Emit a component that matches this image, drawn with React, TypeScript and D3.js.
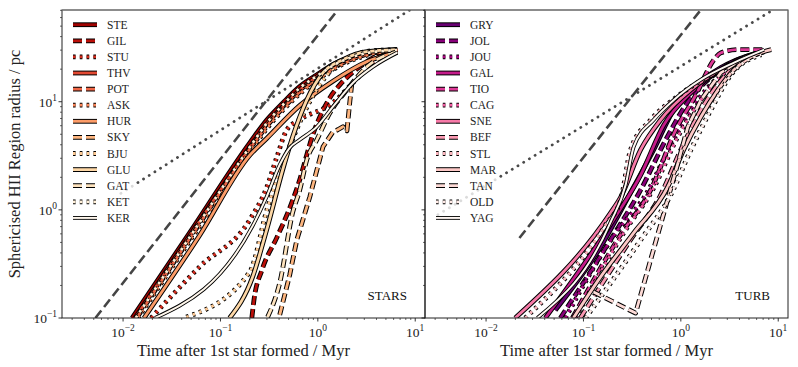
import { useEffect, useRef } from "react";
import * as d3 from "d3";

const W = 798;
const H = 367;

const starsNames = ["STE", "GIL", "STU", "THV", "POT", "ASK", "HUR", "SKY", "BJU", "GLU", "GAT", "KET", "KER"];
const turbNames = ["GRY", "JOL", "JOU", "GAL", "TIO", "CAG", "SNE", "BEF", "STL", "MAR", "TAN", "OLD", "YAG"];

// [time after 1st star / Myr, radius / pc]
const STE = [[0.0124, 0.1], [0.048, 0.61], [0.2, 4.17], [0.3, 6.8], [0.44, 9.8], [0.65, 13.8], [0.98, 17.8], [1.43, 22], [3.2, 28.4], [6.5, 30.3]];
const GIL = [[0.21, 0.1], [0.221, 0.147], [0.267, 0.278], [0.378, 0.551], [0.514, 1.04], [0.652, 1.9], [0.77, 3.23], [0.888, 4.95], [1.05, 7.26], [1.33, 10.9], [1.69, 14.4], [2.71, 21.1], [4.68, 28.4], [6.52, 30.3]];
const STU = [[0.0194, 0.1], [0.061, 0.297], [0.2, 0.81], [0.3, 1.63], [0.38, 3.1], [0.48, 5.5], [0.65, 6.8], [1.43, 9.8], [2.3, 15], [3.7, 23], [6.5, 28.4]];
const THV = [[0.0133, 0.1], [0.05, 0.6], [0.21, 4.0], [0.31, 6.5], [0.46, 9.4], [0.68, 13.2], [1.0, 17.2], [1.5, 21.5], [3.3, 28], [6.6, 30]];
const POT = [[0.0138, 0.1], [0.052, 0.6], [0.215, 4.0], [0.32, 6.4], [0.47, 9.3], [0.7, 13], [1.05, 17], [1.55, 21.3], [3.4, 27.8], [6.6, 29.8]];
const ASK = [[0.0142, 0.1], [0.054, 0.6], [0.22, 3.9], [0.33, 6.3], [0.48, 9.1], [0.72, 12.8], [1.07, 16.8], [1.6, 21], [3.5, 27.5], [6.6, 29.6]];
const HUR = [[0.0164, 0.1], [0.061, 0.58], [0.2, 3.2], [0.3, 4.6], [0.65, 9.2], [1.43, 15.5], [3.2, 23.5], [6.5, 28.6]];
const SKY = [[0.406, 0.107], [0.514, 0.25], [0.608, 0.527], [0.827, 1.32], [1.13, 3.83], [1.43, 5.27], [1.6, 5.5], [1.81, 5.87], [1.99, 5.39], [2.14, 10.4], [2.24, 15]];
const BJU = [[0.0446, 0.102], [0.2, 0.267], [0.3, 1.0], [0.55, 4.5], [0.8, 9.5], [1.2, 17], [2.0, 25], [3.5, 29.5], [6.6, 30.3]];
const GLU = [[0.124, 0.1], [0.214, 0.24], [0.298, 0.653], [0.436, 2.35], [0.552, 4.74], [0.77, 10.4], [1.13, 18.6], [1.81, 24.5], [3.2, 29], [6.5, 30.3]];
const GAT = [[0.305, 0.102], [0.406, 0.211], [0.552, 0.95], [0.652, 1.53], [0.77, 2.9], [0.977, 4.45], [1.33, 7.89], [1.99, 12.9], [3.2, 21.1], [6.52, 29]];
const KET = [[0.0135, 0.1], [0.051, 0.6], [0.21, 4.05], [0.31, 6.6], [0.45, 9.6], [0.66, 13.5], [1.0, 17.5], [1.45, 21.7], [3.2, 28.2], [6.5, 30]];
const KER = [[0.0213, 0.1], [0.214, 0.711], [0.298, 1.32], [0.406, 2.61], [0.514, 3.75], [0.652, 4.45], [0.977, 5.87], [1.43, 8.99], [2.3, 15], [3.69, 21.1], [6.52, 28.4]];

const GRY = [[0.0514, 0.118], [0.15, 0.454], [0.328, 1.63], [0.527, 3.6], [0.847, 8.43], [1.27, 12.9], [2.58, 20.7], [5.27, 27.2], [7.18, 29]];
const JOL = [[0.0579, 0.1], [0.19, 0.53], [0.387, 1.53], [0.7, 4.45], [1.13, 9.4], [2.58, 19.8], [6.7, 29]];
const JOU = [[0.0652, 0.1], [0.214, 0.612], [0.436, 1.38], [0.789, 4.0], [1.27, 8.43], [2.58, 17.8], [5.93, 27.2]];
const GAL = [[0.0406, 0.1], [0.204, 0.81], [0.387, 2.1], [0.668, 6.1], [1.27, 12.1], [2.58, 19.8], [6.7, 29]];
const TIO = [[0.077, 0.1], [0.241, 0.59], [0.491, 1.53], [0.888, 5.5], [1.43, 11.6], [2.19, 24.5], [2.58, 28.4], [3.87, 30.3], [7.18, 30.3]];
const CAG = [[0.0827, 0.1], [0.271, 0.653], [0.514, 1.53], [0.954, 4.95], [1.61, 10.4], [2.91, 19], [5.93, 27.2]];
const SNE = [[0.0199, 0.1], [0.19, 0.94], [0.24, 1.3], [0.387, 3.6], [0.62, 6.8], [1.27, 12.9], [2.58, 19.8], [5.27, 26.1], [7.18, 29]];
const BEF = [[0.093, 0.1], [0.305, 0.53], [0.622, 1.38], [1.0, 3.6], [1.61, 8.43], [2.91, 17.8], [6.37, 28.4]];
const STL = [[0.0252, 0.1], [0.169, 0.726], [0.241, 1.24], [0.305, 3.6], [0.491, 6.8], [0.888, 10.9], [1.81, 16.7], [4.15, 24.5]];
const MAR = [[0.0788, 0.1], [0.15, 0.24], [0.328, 0.612], [0.734, 1.63], [1.07, 3.6], [1.61, 7.26], [2.41, 12.9], [3.52, 19.8], [5.27, 26.1], [8.47, 30.3]];
const TAN = [[0.127, 0.174], [0.343, 0.111], [0.954, 2.9], [1.18, 5.87], [1.61, 10.4], [2.58, 18.6], [4.68, 26.1]];
const OLD = [[0.105, 0.1], [0.387, 0.527], [0.789, 1.38], [1.27, 3.6], [2.04, 8.43], [3.28, 17.8], [6.7, 27.2]];
const YAG = [[0.0336, 0.1], [0.19, 0.77], [0.271, 1.7], [0.328, 3.83], [0.527, 6.81], [0.847, 10.4], [1.61, 16], [3.52, 23], [7.18, 30.3]];

const starsSeries = [STE, GIL, STU, THV, POT, ASK, HUR, SKY, BJU, GLU, GAT, KET, KER];
const turbSeries = [GRY, JOL, JOU, GAL, TIO, CAG, SNE, BEF, STL, MAR, TAN, OLD, YAG];

// tracks with sharp kinks, drawn with straight segments
const kinked = ["SKY", "TAN"];

// reference power laws (straight in log-log)
const refDashedStars = [[0.0052, 0.1], [1.6, 70.5]];
const refDottedStars = [[0.0095, 1.42], [8.8, 70.5]];
const refDashedTurb = [[0.022, 0.55], [1.6, 70.5]];
const refDottedTurb = [[0.0032, 0.9], [8.8, 70.5]];

const xTicks = [0.01, 0.1, 1, 10];
const xTickExp = ["−2", "−1", "0", "1"];
const yTicks = [0.1, 1, 10];
const yTickExp = ["−1", "0", "1"];

const xDomain = [0.00236, 12.6];
const yDomain = [0.1, 70.5];

const App = () => {
	const svgRef = useRef(null);

	useEffect(() => {
		const svg = d3.select(svgRef.current);
		svg.selectAll("*").remove();

		const top = 10;
		const bottom = 318;

		const panels = [
			{id: "stars", x0: 62, x1: 425, label: "STARS", names: starsNames, series: starsSeries, dashed: refDashedStars, dotted: refDottedStars, cmap: d3.interpolateOrRd},
			{id: "turb", x0: 425, x1: 788, label: "TURB", names: turbNames, series: turbSeries, dashed: refDashedTurb, dotted: refDottedTurb, cmap: d3.interpolateRdPu},
		];

		const dashFor = (k) => (k === 0 ? null : k === 1 ? "9,4" : "2.6,4.2");

		panels.forEach((p, pi) => {
			const x = d3.scaleLog().domain(xDomain).range([p.x0, p.x1]);
			const y = d3.scaleLog().domain(yDomain).range([bottom, top]);
			const color = (i) => p.cmap(0.92 - (i * 0.92) / 12);

			svg.append("clipPath")
				.attr("id", `clip-${p.id}`)
				.append("rect")
				.attr("x", p.x0)
				.attr("y", top)
				.attr("width", p.x1 - p.x0)
				.attr("height", bottom - top);

			const g = svg.append("g").attr("clip-path", `url(#clip-${p.id})`);
			const smooth = d3.line()
				.x((d) => x(d[0]))
				.y((d) => y(d[1]))
				.curve(d3.curveMonotoneX);
			const straight = d3.line().x((d) => x(d[0])).y((d) => y(d[1]));

			p.series.forEach((s, i) => {
				const dash = dashFor(i % 3);
				const gen = kinked.includes(p.names[i]) ? straight : smooth;
				const thin = i === 12;
				g.append("path")
					.attr("d", gen(s))
					.attr("fill", "none")
					.attr("stroke", "#000")
					.attr("stroke-width", thin ? 3.8 : 4.8)
					.attr("stroke-linejoin", "round")
					.attr("stroke-dasharray", dash);
				g.append("path")
					.attr("d", gen(s))
					.attr("fill", "none")
					.attr("stroke", color(i))
					.attr("stroke-width", thin ? 2 : 2.8)
					.attr("stroke-linejoin", "round")
					.attr("stroke-dasharray", dash);
			});

			g.append("path")
				.attr("d", straight(p.dashed))
				.attr("fill", "none")
				.attr("stroke", "#454545")
				.attr("stroke-width", 2.6)
				.attr("stroke-dasharray", "9.5,4.5");
			g.append("path")
				.attr("d", straight(p.dotted))
				.attr("fill", "none")
				.attr("stroke", "#4a4a4a")
				.attr("stroke-width", 2.8)
				.attr("stroke-linecap", "round")
				.attr("stroke-dasharray", "0.1,6.6");

			// legend
			const lx = p.x0 + 4;
			const leg = svg.append("g");
			leg.append("rect")
				.attr("x", lx)
				.attr("y", 14)
				.attr("width", 70)
				.attr("height", 214)
				.attr("rx", 3)
				.attr("fill", "#fff")
				.attr("opacity", 0.8);
			p.names.forEach((name, i) => {
				const ry = 24.7 + i * 16.1;
				const dash = dashFor(i % 3);
				const thin = i === 12;
				leg.append("line")
					.attr("x1", lx + 7).attr("x2", lx + 31)
					.attr("y1", ry).attr("y2", ry)
					.attr("stroke", "#000").attr("stroke-width", thin ? 3.8 : 4.8)
					.attr("stroke-dasharray", dash);
				leg.append("line")
					.attr("x1", lx + 7).attr("x2", lx + 31)
					.attr("y1", ry).attr("y2", ry)
					.attr("stroke", color(i)).attr("stroke-width", thin ? 2 : 2.8)
					.attr("stroke-dasharray", dash);
				leg.append("text")
					.attr("x", lx + 41)
					.attr("y", ry + 4)
					.attr("font-size", 11.5)
					.attr("fill", "#222")
					.text(name);
			});

			svg.append("text")
				.attr("x", p.x1 - 18)
				.attr("y", 299.5)
				.attr("text-anchor", "end")
				.attr("font-size", 13)
				.attr("fill", "#111")
				.text(p.label);

			// x ticks
			const axis = svg.append("g").attr("stroke", "#000");
			const minors = [];
			for (let e = -3; e <= 1; e++) {
				for (let m = 2; m <= 9; m++) minors.push(m * Math.pow(10, e));
			}
			minors.filter((v) => v > xDomain[0] && v < xDomain[1]).forEach((v) => {
				axis.append("line").attr("x1", x(v)).attr("x2", x(v)).attr("y1", bottom).attr("y2", bottom + 2).attr("stroke-width", 0.6);
			});
			xTicks.forEach((v, i) => {
				axis.append("line").attr("x1", x(v)).attr("x2", x(v)).attr("y1", bottom).attr("y2", bottom + 3.5).attr("stroke-width", 0.8);
				const t = svg.append("text")
					.attr("x", x(v))
					.attr("y", 337)
					.attr("text-anchor", "middle")
					.attr("font-size", 13.5)
					.attr("fill", "#222");
				t.append("tspan").text("10");
				t.append("tspan").attr("dy", -6).attr("font-size", 9.5).text(xTickExp[i]);
			});

			// y ticks
			const yMinors = [];
			for (let e = -1; e <= 1; e++) {
				for (let m = 2; m <= 9; m++) yMinors.push(m * Math.pow(10, e));
			}
			yMinors.filter((v) => v < yDomain[1]).forEach((v) => {
				axis.append("line").attr("x1", p.x0 - 2).attr("x2", p.x0).attr("y1", y(v)).attr("y2", y(v)).attr("stroke-width", 0.6);
			});
			yTicks.forEach((v, i) => {
				axis.append("line").attr("x1", p.x0 - 3.5).attr("x2", p.x0).attr("y1", y(v)).attr("y2", y(v)).attr("stroke-width", 0.8);
				if (pi === 0) {
					const t = svg.append("text")
						.attr("x", 57)
						.attr("y", y(v) + 5)
						.attr("text-anchor", "end")
						.attr("font-size", 13.5)
						.attr("fill", "#222");
					t.append("tspan").text("10");
					t.append("tspan").attr("dy", -6).attr("font-size", 9.5).text(yTickExp[i]);
				}
			});

			// frame
			svg.append("rect")
				.attr("x", p.x0)
				.attr("y", top)
				.attr("width", p.x1 - p.x0)
				.attr("height", bottom - top)
				.attr("fill", "none")
				.attr("stroke", "#222")
				.attr("stroke-width", 1);
			svg.append("line")
				.attr("x1", p.x0).attr("x2", p.x1)
				.attr("y1", top).attr("y2", top)
				.attr("stroke", "#888").attr("stroke-width", 1.2);

			svg.append("text")
				.attr("x", (p.x0 + p.x1) / 2)
				.attr("y", 356)
				.attr("text-anchor", "middle")
				.attr("font-size", 16.5)
				.attr("fill", "#222")
				.text("Time after 1st star formed / Myr");
		});

		svg.append("text")
			.attr("transform", `translate(20, ${(top + bottom) / 2}) rotate(-90)`)
			.attr("text-anchor", "middle")
			.attr("font-size", 16.5)
			.attr("fill", "#222")
			.text("Sphericised HII Region radius / pc");
	}, []);

	return (
		<svg
			ref={svgRef}
			width={W}
			height={H}
			style={{position: "absolute", left: 0, top: 0, background: "#fff", fontFamily: "'Liberation Serif', 'DejaVu Serif', serif"}}
		></svg>
	);
};

export default App;
